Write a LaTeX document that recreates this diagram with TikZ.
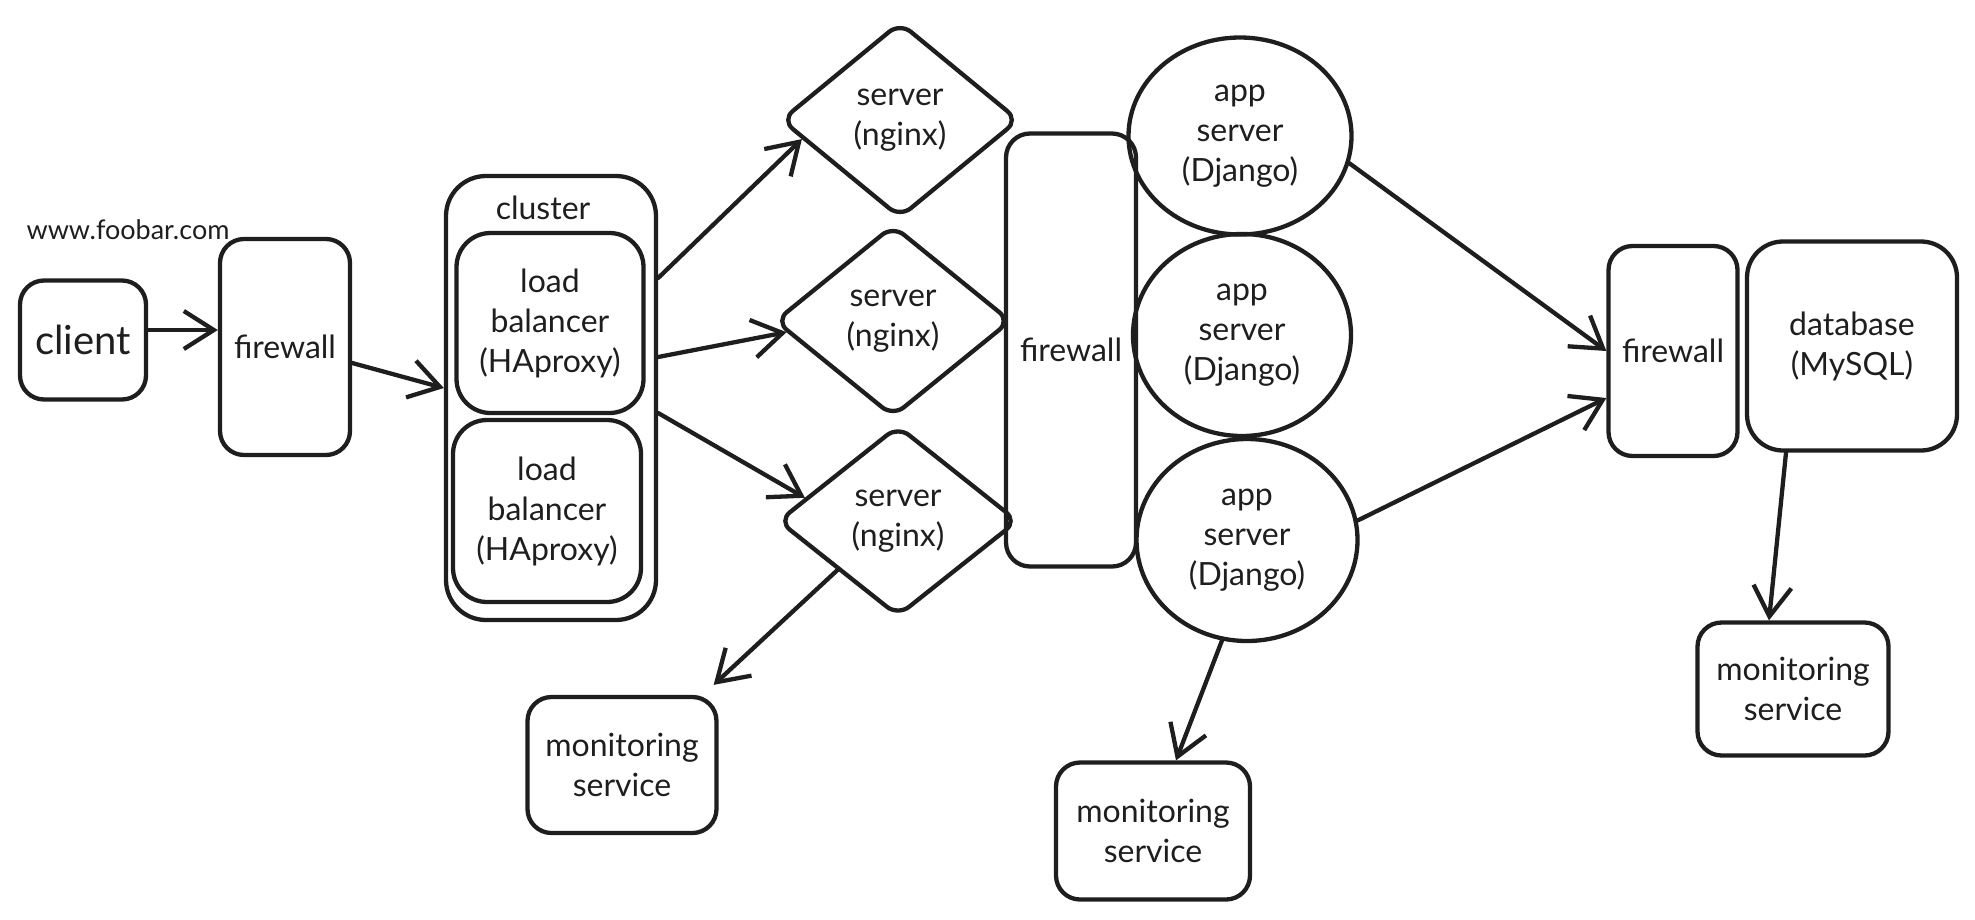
\documentclass[tikz,border=0pt]{standalone}
\usepackage{fontspec}
\setmainfont{Lato}
\usetikzlibrary{shapes.geometric,arrows.meta,calc}
\definecolor{ink}{HTML}{1E1E1E}
\begin{document}
\begin{tikzpicture}[x=1pt,y=-1pt,
  every node/.style={text=ink, font=\fontsize{32}{40}\selectfont, align=center},
  box/.style={draw=ink, line width=4.3pt, rounded corners=24pt, inner sep=0pt},
  dia/.style={draw=ink, line width=4.3pt, shape=diamond, rounded corners=14pt, inner sep=0pt},
  ell/.style={draw=ink, line width=4.3pt, shape=ellipse, inner sep=0pt},
  arr/.style={draw=ink, line width=4.3pt, line cap=round, line join=round, -{Straight Barb[length=30pt,width=38pt]}},
]
\useasboundingbox (0,0) rectangle (1975,919);

\node (www) at (128,230) {\fontsize{27}{32}\selectfont www.foobar.com};
\node[box, minimum width=126pt, minimum height=119pt] (client) at (83,340) {\fontsize{40}{48}\selectfont client};
\node[box, minimum width=130pt, minimum height=216pt] (fw1) at (285,347) {firewall};

\node[box, rounded corners=40pt, minimum width=210pt, minimum height=444pt] (cluster) at (551,398) {};
\node (clabel) at (543,208) {cluster};
\node[box, rounded corners=34pt, minimum width=187pt, minimum height=180pt] (lb1) at (550,323) {load\\balancer\\(HAproxy)};
\node[box, rounded corners=34pt, minimum width=188pt, minimum height=182pt] (lb2) at (547,511) {load\\balancer\\(HAproxy)};

\node[dia, minimum width=238pt, minimum height=196pt] (s1) at (900,120) {server\\(nginx)};
\node[dia, minimum width=236pt, minimum height=192pt] (s2) at (893,321) {server\\(nginx)};
\node[dia, minimum width=240pt, minimum height=191pt] (s3) at (898,521) {server\\(nginx)};

\node[box, minimum width=130pt, minimum height=433pt] (fw2) at (1071,350) {firewall};

\node[ell, minimum width=223pt, minimum height=197pt] (a1) at (1240,136) {app\\server\\(Django)};
\node[ell, minimum width=218pt, minimum height=202pt] (a2) at (1242,335) {app\\server\\(Django)};
\node[ell, minimum width=221pt, minimum height=202pt] (a3) at (1247,540) {app\\server\\(Django)};

\node[box, minimum width=129pt, minimum height=210pt] (fw3) at (1673,351) {firewall};
\node[box, rounded corners=36pt, minimum width=210pt, minimum height=209pt] (db) at (1852,346) {database\\(MySQL)};

\node[box, minimum width=189pt, minimum height=136pt] (m1) at (622,765) {monitoring\\service};
\node[box, minimum width=194pt, minimum height=137pt] (m2) at (1153,831) {monitoring\\service};
\node[box, minimum width=191pt, minimum height=133pt] (m3) at (1793,689) {monitoring\\service};

\draw[arr] ([yshift=10pt]client.east) -- ([yshift=17pt]fw1.west);
\draw[arr] ([yshift=-16pt]fw1.east) -- ([yshift=10pt]cluster.west);
\draw[arr] ([yshift=120pt]cluster.east) -- (s1.191);
\draw[arr] ([yshift=41pt]cluster.east) -- (s2.186);
\draw[arr] ([yshift=-15pt]cluster.east) -- (s3.166);
\draw[arr] (s3.219) -- ([xshift=-5pt,yshift=10pt]m1.north east);
\draw[arr] (a3.256) -- ([xshift=23pt]m2.north);
\draw[arr] ([xshift=-66pt]db.south) -- ([xshift=-24pt]m3.north);
\draw[arr] (a1.-14) -- (fw3.west);
\draw[arr] (a3.10) -- ([yshift=-47pt]fw3.west);
\end{tikzpicture}
\end{document}
